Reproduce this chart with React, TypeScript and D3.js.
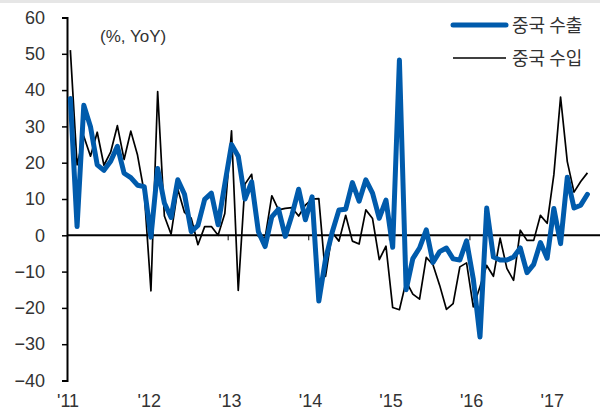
import React, { useEffect, useRef } from 'react';
import * as d3 from 'd3';

// monthly, Jan 2011 - Jun 2017 (%, YoY)
const exportsYoY = [
  37.7, 2.4, 35.8, 29.9, 19.4, 17.9, 20.4, 24.5, 17.1, 15.9, 13.8, 13.4,
  -0.5, 18.4, 8.9, 4.9, 15.3, 11.3, 1.0, 2.7, 9.9, 11.6, 2.9, 14.1,
  25.0, 21.8, 10.0, 14.7, 1.0, -3.1, 5.1, 7.2, -0.3, 5.6, 12.7, 4.3,
  10.6, -18.1, -6.6, 0.9, 7.0, 7.2, 14.5, 9.4, 15.3, 11.6, 4.7, 9.7,
  -3.3, 48.3, -15.0, -6.4, -3.5, 1.5, -7.5, -4.5, -3.5, -6.5, -6.8, -1.5,
  -12.0, -28.0, 7.5, -6.0, -6.8, -6.8, -6.0, -3.5, -10.3, -8.0, -2.0, -6.3,
  7.4, -2.3, 16.0, 7.5, 8.3, 11.3,
];

const importsYoY = [
  51.0, 19.4, 27.3, 21.8, 28.4, 19.3, 22.9, 30.2, 20.9, 28.7, 22.1, 11.8,
  -15.3, 39.6, 5.3, 0.3, 12.7, 6.3, 4.7, -2.6, 2.4, 2.4, 0.0, 6.0,
  28.8, -15.2, 14.1, 16.8, -0.3, -0.7, 10.9, 7.0, 7.4, 7.6, 5.3, 8.3,
  10.0, 10.1, -11.3, 0.8, -1.6, 5.5, -1.6, -2.4, 7.0, 4.6, -6.7, -3.0,
  -19.9, -20.5, -12.7, -16.2, -17.6, -6.1, -8.1, -13.8, -20.4, -18.8, -8.7, -7.6,
  -19.7, -14.2, -8.3, -11.3, -0.8, -9.1, -12.4, 1.4, -1.4, -1.4, 5.5, 3.3,
  16.7, 38.1, 20.3, 11.9, 14.8, 17.2,
];

const yearLabels = ["'11", "'12", "'13", "'14", "'15", "'16", "'17"];
const yTicks = [-40, -30, -20, -10, 0, 10, 20, 30, 40, 50, 60];
const seriesNames = ['중국 수출', '중국 수입'];
const unitLabel = '(%, YoY)';

const W = 600;
const H = 412;
const BLUE = '#005bac';
const TEXT = '#333';

const App = () => {
  const svgRef = useRef<SVGSVGElement>(null);

  useEffect(() => {
    const svg = d3.select(svgRef.current);
    svg.selectAll('*').remove();

    const x = d3.scaleLinear().domain([0, 72]).range([67, 550.5]);
    const y = d3.scaleLinear().domain([-40, 60]).range([380.5, 17.5]);

    svg.append('rect').attr('x', 0).attr('y', 0).attr('width', W).attr('height', 3).attr('fill', '#e6e6e6');

    // y axis
    const yAxis = d3.axisLeft(y).tickValues(yTicks).tickSize(5).tickPadding(17);
    const gy = svg.append('g').attr('transform', 'translate(67,0)').call(yAxis);
    gy.select('.domain').attr('stroke', '#000').attr('stroke-width', 2);
    gy.selectAll('.tick line').attr('stroke', '#000').attr('stroke-width', 1.5);
    gy.selectAll('.tick text')
      .attr('fill', TEXT)
      .attr('font-family', '"Liberation Sans", Arial, sans-serif')
      .attr('font-size', 18);

    // zero line + year ticks
    svg.append('line')
      .attr('x1', 67).attr('x2', W)
      .attr('y1', y(0)).attr('y2', y(0))
      .attr('stroke', '#000').attr('stroke-width', 2);

    const years = d3.range(yearLabels.length);
    svg.append('g').selectAll('line').data(years.slice(1)).join('line')
      .attr('x1', d => x(d * 12)).attr('x2', d => x(d * 12))
      .attr('y1', y(0)).attr('y2', y(0) + 5)
      .attr('stroke', '#000').attr('stroke-width', 1);

    svg.append('g').selectAll('text').data(years).join('text')
      .attr('x', d => x(d * 12) - 10)
      .attr('y', 407)
      .attr('fill', TEXT)
      .attr('font-family', '"Liberation Sans", Arial, sans-serif')
      .attr('font-size', 18)
      .text(d => yearLabels[d]);

    // lines
    const line = d3.line<number>()
      .x((_, i) => x(i + 0.5))
      .y(d => y(d));

    svg.append('path')
      .datum(importsYoY)
      .attr('d', line)
      .attr('fill', 'none')
      .attr('stroke', '#000')
      .attr('stroke-width', 1.7)
      .attr('stroke-linejoin', 'round');

    svg.append('path')
      .datum(exportsYoY)
      .attr('d', line)
      .attr('fill', 'none')
      .attr('stroke', BLUE)
      .attr('stroke-width', 5)
      .attr('stroke-linejoin', 'round')
      .attr('stroke-linecap', 'round');

    // unit label
    svg.append('text')
      .attr('x', 100).attr('y', 42)
      .attr('fill', TEXT)
      .attr('font-family', '"Liberation Sans", Arial, sans-serif')
      .attr('font-size', 17)
      .text(unitLabel);

    // legend
    const legend = svg.append('g');
    const styles = [
      { stroke: BLUE, width: 5 },
      { stroke: '#000', width: 1.7 },
    ];
    seriesNames.forEach((name, i) => {
      const ly = 25 + i * 33;
      legend.append('line')
        .attr('x1', 453).attr('x2', 506)
        .attr('y1', ly).attr('y2', ly)
        .attr('stroke', styles[i].stroke)
        .attr('stroke-width', styles[i].width)
        .attr('stroke-linecap', i === 0 ? 'round' : 'butt');
      legend.append('text')
        .attr('x', 512).attr('y', ly + 7)
        .attr('fill', TEXT)
        .attr('font-family', '"Noto Sans CJK KR", sans-serif')
        .attr('font-size', 18)
        .text(name);
    });
  }, []);

  return (
    <svg
      ref={svgRef}
      width={W}
      height={H}
      style={{ position: 'absolute', left: 0, top: 0, background: '#fff' }}
    />
  );
};

export default App;
